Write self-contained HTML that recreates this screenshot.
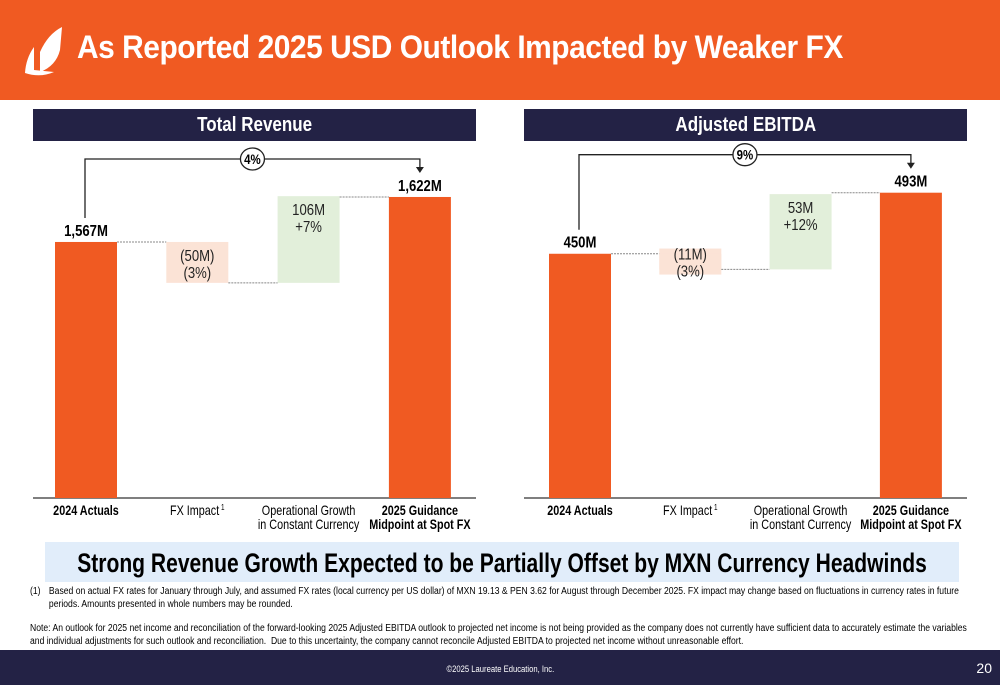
<!DOCTYPE html>
<html><head><meta charset="utf-8">
<style>
body{margin:0;width:1000px;height:685px;position:relative;overflow:hidden;background:#fff;font-family:"Liberation Sans",sans-serif;}
.hdr{position:absolute;left:0;top:0;width:1000px;height:100px;background:#F05A22;}
.title{position:absolute;left:77px;top:29px;color:#fff;font-weight:bold;font-size:32px;letter-spacing:-0.5px;white-space:nowrap;transform:scaleX(0.935);transform-origin:left top;}
.ph{position:absolute;top:109px;height:32px;background:#232245;color:#fff;font-weight:bold;font-size:20px;text-align:center;line-height:33px;}
.ph span{display:inline-block;transform:scaleX(0.85);}
.banner{position:absolute;left:45px;top:542px;width:914px;height:40px;background:#E1EDFA;font-weight:bold;font-size:27px;line-height:42px;color:#000;white-space:nowrap;}
.banner span{position:absolute;left:50%;top:0;transform:translateX(-50%) scaleX(0.78);}
.fn{position:absolute;left:30px;font-size:10px;color:#000;line-height:12.5px;width:1105px;transform:scaleX(0.86);transform-origin:left top;}
.footer{position:absolute;left:0;top:650px;width:1000px;height:35px;background:#232245;color:#fff;}
</style></head><body>
<div class="hdr">
<svg width="70" height="80" style="position:absolute;left:20px;top:20px"><path d="M42 7 L40 30 Q36 46 20 52 L20 32 Q28 14 42 7Z M14 27 L14 50 L34 52 Q20 58 5 53 Q6 38 14 27Z" fill="#fff"/></svg>
<div class="title">As Reported 2025 USD Outlook Impacted by Weaker FX</div>
</div>
<div class="ph" style="left:33px;width:443px"><span>Total Revenue</span></div>
<div class="ph" style="left:524px;width:443px"><span>Adjusted EBITDA</span></div>
<svg id="chart" width="1000" height="540" style="position:absolute;left:0;top:0"></svg>
<div class="banner"><span>Strong Revenue Growth Expected to be Partially Offset by MXN Currency Headwinds</span></div>
<div class="fn" style="top:586px"><span style="position:absolute;left:0">(1)</span><div style="margin-left:22px">Based on actual FX rates for January through July, and assumed FX rates (local currency per US dollar) of MXN 19.13 &amp; PEN 3.62 for August through December 2025. FX impact may change based on fluctuations in currency rates in future periods. Amounts presented in whole numbers may be rounded.</div></div>
<div class="fn" style="top:623px">Note: An outlook for 2025 net income and reconciliation of the forward-looking 2025 Adjusted EBITDA outlook to projected net income is not being provided as the company does not currently have sufficient data to accurately estimate the variables and individual adjustments for such outlook and reconciliation.&nbsp; Due to this uncertainty, the company cannot reconcile Adjusted EBITDA to projected net income without unreasonable effort.</div>
<div class="footer">
<div style="position:absolute;left:0;width:1000px;top:14px;text-align:center;font-size:9px"><span style="display:inline-block;transform:scaleX(0.85)">©2025 Laureate Education, Inc.</span></div>
<div style="position:absolute;right:8px;top:10px;font-size:14px">20</div>
</div>
<script>
const categories=["2024 Actuals","FX Impact","Operational Growth|in Constant Currency","2025 Guidance|Midpoint at Spot FX"];
const revValues=[1567,-50,106,1622];
const revLabels=["1,567M","(50M)|(3%)","106M|+7%","1,622M"];
const revGrowth="4%";
const ebValues=[450,-11,53,493];
const ebLabels=["450M","(11M)|(3%)","53M|+12%","493M"];
const ebGrowth="9%";
const NS="http://www.w3.org/2000/svg";
const svg=document.getElementById('chart');
function mk(t,a,p){const e=document.createElementNS(NS,t);for(const k in a)e.setAttribute(k,a[k]);(p||svg).appendChild(e);return e;}
function sq(t,cx,s){t.setAttribute('transform',`translate(${cx},0) scale(${s},1) translate(${-cx},0)`);}
function draw(values,labels,growth,ox,off,step,vmin,k,name){
  const base=498;
  const y=v=>base-(v-vmin)*k;
  const bx=i=>ox+off+i*step, bw=62;
  const ax=mk('line',{x1:ox,x2:ox+443,y1:base,y2:base,stroke:'#555','stroke-width':1.5});
  
  let run=values[0];const tops=[];
  values.forEach((v,i)=>{
    let y0,y1,fill;
    if(i==0||i==values.length-1){y0=y(v);y1=base;fill='#F05A22';tops.push(y0);run=v;}
    else{const nr=run+v;y0=Math.min(y(run),y(nr));y1=Math.max(y(run),y(nr));fill=v<0?'#FBE3D6':'#E2EFDA';run=nr;}
    if(i>0){
      const ly=i==values.length-1?y(v):y(run-v);
      const c=mk('line',{x1:bx(i-1)+bw,x2:bx(i),y1:ly,y2:ly,stroke:'#888','stroke-width':1,'stroke-dasharray':'2,1'});
      }
    const parts=labels[i].split('|');
    if(i>0&&i<values.length-1&&(y1-y0)<40){const m=(y0+y1)/2;const bg=mk('rect',{x:bx(i),y:m-13,width:bw,height:26,fill});}
    const r=mk('rect',{x:bx(i),y:y0,width:bw,height:y1-y0,fill});
    
    const cx=bx(i)+bw/2;
    if(parts.length==1){const t=mk('text',{x:cx,y:y0-6,'text-anchor':'middle','font-size':16,'font-weight':'bold'});t.textContent=parts[0];sq(t,cx,0.82);}
    else{const ty=(y1-y0)<40?(y0+y1)/2-2:y0+19;parts.forEach((p,j)=>{const t=mk('text',{x:cx,y:ty+j*17,'text-anchor':'middle','font-size':16,fill:'#222'});t.textContent=p;sq(t,cx,0.82);});}
    const cl=categories[i].split('|');
    cl.forEach((p,j)=>{const t=mk('text',{x:cx,y:515+j*14,'text-anchor':'middle','font-size':13.5,'font-weight':(i==0||i==3)?'bold':'normal'});t.textContent=p;sq(t,cx,0.8);
      if(i==1){const s=mk('tspan',{'font-size':8,dy:-5},t);s.textContent=' 1';}});
  });
  const lx=bx(0)+bw/2-1, rx=bx(3)+bw/2, ly=Math.min(tops[0],tops[1])-38;
  const br=mk('path',{d:`M${lx} ${tops[0]-24} V${ly} H${rx} V${ly+9}`,fill:'none',stroke:'#222','stroke-width':1.3});
  
  const ar=mk('path',{d:`M${rx-4} ${ly+8} L${rx+4} ${ly+8} L${rx} ${ly+14}Z`,fill:'#222'});
  
  const mx=(lx+rx)/2;
  const c=mk('ellipse',{cx:mx,cy:ly,rx:12,ry:11,fill:'#fff',stroke:'#222','stroke-width':1.3});
  
  const t=mk('text',{x:mx,y:ly+5,'text-anchor':'middle','font-size':14,'font-weight':'bold'});t.textContent=growth;sq(t,mx,0.82);
  
}
draw(revValues,revLabels,revGrowth,33,22,111.3,1254,0.818,'revenue');
draw(ebValues,ebLabels,ebGrowth,524,25,110.3,278,1.42,'ebitda');
</script>
</body></html>
